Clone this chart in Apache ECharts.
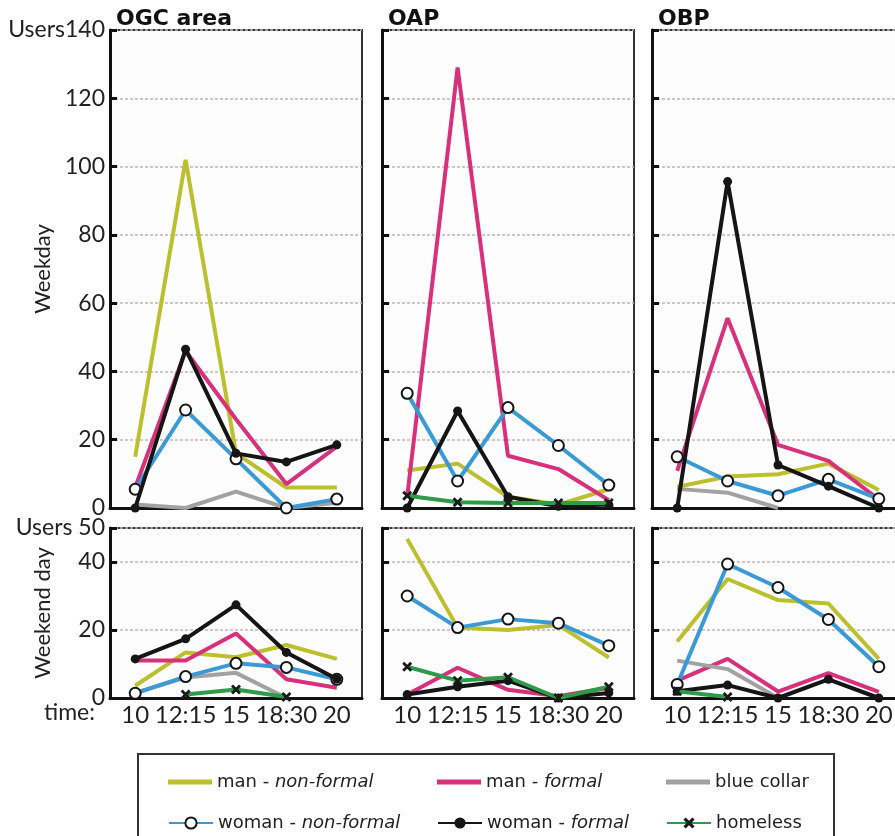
<!DOCTYPE html>
<html>
<head>
<meta charset="utf-8">
<script src="https://cdn.jsdelivr.net/npm/echarts@6/dist/echarts.min.js"></script>
<style>
  html, body { margin: 0; padding: 0; background: #fff; }
  #main { width: 895px; height: 836px; }
</style>
</head>
<body>
<div id="main"></div>
<script>
  // time slots (category axis)
  var times = ['10', '12:15', '15', '18:30', '20'];
  var areas = ['OGC area', 'OAP', 'OBP'];

  // weekday, one row per area: OGC area, OAP, OBP
  var wdManNonFormal = [
    [15, 102, 16, 6, 6],
    [11, 13, 3.3, 1, 5.5],
    [6.2, 9.2, 9.9, 13, 5.3]
  ];
  var wdManFormal = [
    [6, 46, 26, 7, 18],
    [3.3, 129, 15.3, 11.4, 2.3],
    [10.9, 55.6, 18.5, 13.8, 2.5]
  ];
  var wdBlueCollar = [
    [1, 0, 4.8, 0, 1.5],
    null,
    [5.6, 4.5, 0, null, null]
  ];
  var wdWomanNonFormal = [
    [5.5, 28.7, 14.4, 0, 2.6],
    [33.6, 7.9, 29.4, 18.3, 6.7],
    [15, 7.9, 3.6, 8.4, 2.7]
  ];
  var wdWomanFormal = [
    [0, 46.5, 16, 13.5, 18.5],
    [0, 28.4, 3.3, 0.5, 1],
    [0, 95.6, 12.6, 6.4, 0]
  ];
  var wdHomeless = [
    null,
    [3.6, 1.7, 1.5, 1.5, 1.5],
    null
  ];

  // weekend day
  var weManNonFormal = [
    [3.6, 13.4, 12, 15.6, 11.5],
    [46.8, 20.7, 20, 21.5, 11.9],
    [16.6, 35, 28.8, 27.8, 11.5]
  ];
  var weManFormal = [
    [11, 11, 19, 5.5, 3],
    [1, 8.9, 2.4, 0.5, 3],
    [5.1, 11.5, 1.9, 7.3, 1.8]
  ];
  var weBlueCollar = [
    [1.5, 6, 7.4, 0, null],
    null,
    [11, 8.5, 0, null, null]
  ];
  var weWomanNonFormal = [
    [1.4, 6.3, 10.2, 9, 5.5],
    [30, 20.7, 23.2, 22, 15.4],
    [4, 39.4, 32.5, 23.1, 9.2]
  ];
  var weWomanFormal = [
    [11.5, 17.4, 27.4, 13.4, 5.6],
    [1, 3.3, 5.1, 0, 1.5],
    [2, 3.8, 0, 5.5, 0]
  ];
  var weHomeless = [
    [null, 1, 2.5, 0.3, null],
    [9.2, 5.1, 6.1, 0, 3.3],
    [2, 0.3, null, null, null]
  ];

  var FONT = 'Lato';
  var LEGFONT = 'DejaVu Sans';
  var crossPath = 'path://M2,0L5,3L8,0L10,2L7,5L10,8L8,10L5,7L2,10L0,8L3,5L0,2Z';

  var groups = [
    { name: 'man - non-formal', wd: wdManNonFormal, we: weManNonFormal, line: '#bcbf2e', symbol: 'none', lx: 163, ly: 767 },
    { name: 'man - formal', wd: wdManFormal, we: weManFormal, line: '#d9307b', symbol: 'none', lx: 432, ly: 767 },
    { name: 'blue collar', wd: wdBlueCollar, we: weBlueCollar, line: '#a2a2a2', symbol: 'none', lx: 661, ly: 767 },
    { name: 'woman - non-formal', wd: wdWomanNonFormal, we: weWomanNonFormal, line: '#3a9ad6', symbol: 'circle', size: 11, fill: '#fff', lx: 163, ly: 808 },
    { name: 'woman - formal', wd: wdWomanFormal, we: weWomanFormal, line: '#151515', symbol: 'circle', size: 9, fill: '#151515', lx: 432, ly: 808 },
    { name: 'homeless', wd: wdHomeless, we: weHomeless, line: '#2e9b48', symbol: crossPath, size: 10, fill: '#1a1a1a', lx: 661, ly: 808 }
  ];

  var lefts = [110, 382, 652];
  var grids = [], xAxes = [], yAxes = [], series = [];

  for (var r = 0; r < 2; r++) {
    for (var c = 0; c < 3; c++) {
      var idx = r * 3 + c;
      grids.push({
        left: lefts[c], width: 252,
        top: r == 0 ? 30 : 528,
        height: r == 0 ? 478 : 170,
        outerBoundsMode: 'none',
        show: true, borderColor: '#333', borderWidth: 2, backgroundColor: '#fdfdfe'
      });
      xAxes.push({
        type: 'category', gridIndex: idx, data: times, boundaryGap: true,
        axisLine: { lineStyle: { color: '#111', width: 3 } },
        axisTick: { inside: true, length: 6, lineStyle: { color: '#111', width: 2 } },
        axisLabel: {
          show: r == 1, color: '#222', fontFamily: FONT, fontSize: 24, margin: 5,
          interval: 0
        }
      });
      yAxes.push({
        type: 'value', gridIndex: idx, min: 0,
        max: r == 0 ? 140 : 50, interval: 20,
        name: c == 0 ? (r == 0 ? 'Weekday' : 'Weekend day') : '',
        nameLocation: 'middle', nameGap: 56, nameMoveOverlap: false,
        nameTextStyle: { color: '#222', fontFamily: FONT, fontSize: 22 },
        axisLine: { show: true, lineStyle: { color: '#111', width: 3 } },
        axisTick: { show: true, inside: true, length: 7, lineStyle: { color: '#111', width: 3 } },
        splitLine: { lineStyle: { color: '#c4b4b4', width: 1.5, type: [3, 2] } },
        axisLabel: {
          show: c == 0, color: '#222', fontFamily: FONT, fontSize: 23, margin: 5,
          formatter: function (v) {
            if (v == 140) return 'Users140';
            if (v == 50) return 'Users 50';
            return v;
          }
        }
      });
      for (var g = 0; g < groups.length; g++) {
        var grp = groups[g];
        var vals = (r == 0 ? grp.wd : grp.we)[c];
        if (!vals) continue;
        series.push({
          name: grp.name, type: 'line', xAxisIndex: idx, yAxisIndex: idx,
          data: vals, symbol: grp.symbol, symbolSize: grp.size || 0,
          showSymbol: grp.symbol != 'none',
          lineStyle: { color: grp.line, width: 4 },
          itemStyle: {
            color: grp.fill || grp.line,
            borderColor: '#151515',
            borderWidth: grp.fill == '#fff' ? 2 : 0
          },
          emphasis: { disabled: true },
          z: 2 + g
        });
      }
    }
  }

  var titles = areas.map(function (a, i) {
    return {
      text: a, left: lefts[i] + 1, top: 3,
      textStyle: { fontFamily: LEGFONT, fontSize: 22, fontWeight: 'bold', color: '#111' }
    };
  });

  // one legend per item so the 2x3 layout is exact
  var legends = groups.map(function (grp) {
    var plain = grp.symbol == 'none';
    return {
      left: grp.lx, top: grp.ly, selectedMode: false,
      itemWidth: 44, itemHeight: plain ? 5 : 14, itemGap: 0,
      data: [plain ? { name: grp.name, icon: 'path://M0,0H44V5H0Z', itemStyle: { color: grp.line } } : grp.name],
      formatter: function (n) {
        var parts = n.split(' - ');
        return parts.length == 2 ? parts[0] + ' - {i|' + parts[1] + '}' : n;
      },
      textStyle: {
        fontFamily: LEGFONT, fontSize: 18, color: '#222', lineHeight: 20,
        rich: { i: { fontStyle: 'italic', fontFamily: LEGFONT, fontSize: 18, color: '#222' } }
      }
    };
  });

  var dom = document.getElementById('main');
  var myChart = echarts.init(dom, null, { renderer: 'canvas' });
  var option = {
    animation: false,
    backgroundColor: '#fff',
    title: titles,
    grid: grids,
    xAxis: xAxes,
    yAxis: yAxes,
    series: series,
    legend: legends,
    graphic: [
      {
        type: 'text', left: 44, top: 701,
        style: { text: 'time:', fontFamily: FONT, fontSize: 23, fill: '#222' }
      },
      {
        type: 'rect', shape: { x: 138, y: 754, width: 696, height: 90 },
        style: { fill: 'none', stroke: '#333', lineWidth: 2 }
      }
    ]
  };
  if (option && typeof option === "object") {
    myChart.setOption(option, true);
  }
</script>
</body>
</html>
